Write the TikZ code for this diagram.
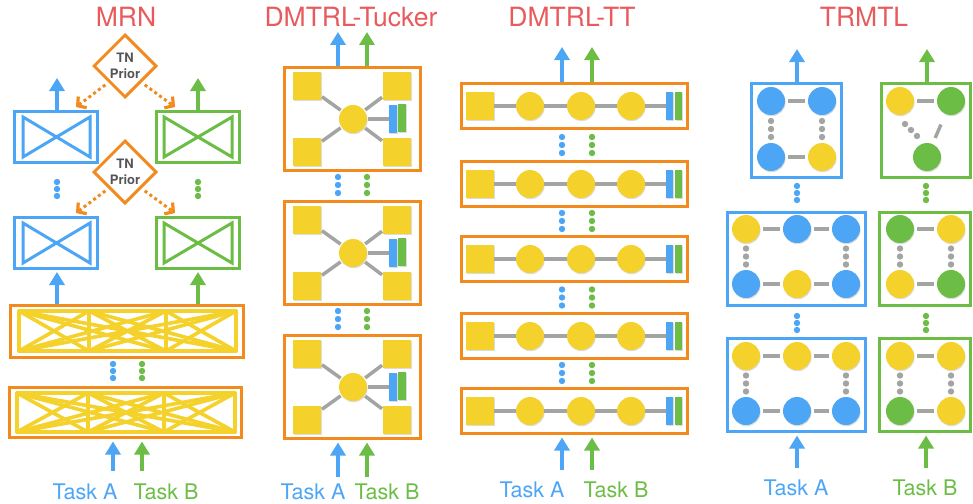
\documentclass[tikz,border=0pt]{standalone}
\usepackage{fontspec}
\setmainfont{TeX Gyre Heros}
\usetikzlibrary{arrows.meta,shapes.geometric,shadows,calc}
\definecolor{cblue}{HTML}{4DA6F5}
\definecolor{cgreen}{HTML}{6CBD45}
\definecolor{corange}{HTML}{F28A1E}
\definecolor{cyellow}{HTML}{F5D12B}
\definecolor{cgray}{HTML}{A3A5A3}
\definecolor{cred}{HTML}{E85A5C}
\definecolor{ctext}{HTML}{555555}
\tikzset{
  upar/.style={line width=4pt,-{Triangle[width=15pt,length=13pt]}},
  orar/.style={corange,line width=3pt,dash pattern=on 3pt off 3pt,
    -{Straight Barb[length=6pt,width=14pt,line width=3.2pt]}},
  pbox/.style={draw,line width=3pt,inner sep=0pt,rectangle},
  shad/.style={drop shadow={opacity=0.28,shadow xshift=0.6pt,shadow yshift=-1.2pt}},
  ysq/.style={rectangle,fill=cyellow,minimum size=28pt,inner sep=0pt,shad},
  ccirc/.style={circle,fill=#1,minimum size=28pt,inner sep=0pt,shad},
  bbar/.style={rectangle,fill=cblue,minimum width=8pt,minimum height=28pt,inner sep=0pt,shad},
  gbar/.style={rectangle,fill=cgreen,minimum width=8pt,minimum height=28pt,inner sep=0pt,shad},
  gline/.style={cgray,line width=3.5pt},
  trline/.style={cgray,line width=3.5pt,shorten <=3pt,shorten >=3pt},
  lat/.style={cyellow,line width=3.6pt,line cap=round,line join=round},
  bow/.style={line width=3pt,line join=miter},
  ttl/.style={text=cred,font=\fontsize{26.5}{27}\selectfont,anchor=base,inner sep=0pt},
  tasklbl/.style={font=\fontsize{21.5}{22}\selectfont,anchor=base,inner sep=0pt},
}
\begin{document}
\begin{tikzpicture}[x=1pt,y=-1pt]
\useasboundingbox (0,0) rectangle (973,503);

% ---------------- titles
\node[ttl] (tMRN) at (126,27) {MRN};
\node[ttl] (tTk) at (351,27) {DMTRL-Tucker};
\node[ttl] (tTT) at (572,27) {DMTRL-TT};
\node[ttl] (tTR) at (864,27) {TRMTL};

% ================= MRN
\node[pbox,draw=cblue,minimum width=83pt,minimum height=51pt] (mA1) at (56,137) {};
\node[pbox,draw=cgreen,minimum width=83pt,minimum height=51pt] (mB1) at (198,137) {};
\node[pbox,draw=cblue,minimum width=83pt,minimum height=51pt] (mA2) at (56,243) {};
\node[pbox,draw=cgreen,minimum width=83pt,minimum height=51pt] (mB2) at (198,243) {};
\draw[bow,cblue] (23,117) -- (90,157) -- (90,117) -- (23,157) -- cycle;
\draw[bow,cgreen] (164,117) -- (232,157) -- (232,117) -- (164,157) -- cycle;
\draw[bow,cblue] (23,223) -- (90,263) -- (90,223) -- (23,263) -- cycle;
\draw[bow,cgreen] (164,223) -- (232,263) -- (232,223) -- (164,263) -- cycle;

\node[diamond,draw=corange,line width=3pt,minimum width=63pt,minimum height=63pt,inner sep=0pt,
  align=center,text=ctext,font=\bfseries\fontsize{13}{15.5}\selectfont] (tn1) at (125,66) {TN\\Prior};
\node[diamond,draw=corange,line width=3pt,minimum width=63pt,minimum height=63pt,inner sep=0pt,
  align=center,text=ctext,font=\bfseries\fontsize{13}{15.5}\selectfont] (tn2) at (125,172) {TN\\Prior};
\coordinate (o1) at (76,107);
\coordinate (o2) at (175,107);
\coordinate (o3) at (76,213);
\coordinate (o4) at (175,213);
\draw[orar,shorten <=4pt] (tn1.south west) -- (o1);
\draw[orar,shorten <=4pt] (tn1.south east) -- (o2);
\draw[orar,shorten <=4pt] (tn2.south west) -- (o3);
\draw[orar,shorten <=4pt] (tn2.south east) -- (o4);

\node[pbox,draw=corange,minimum width=233pt,minimum height=52pt] (mL1) at (127,331.5) {};
\node[pbox,draw=corange,minimum width=232pt,minimum height=50pt] (mL2) at (125.5,412.5) {};
\foreach \ya/\yb/\xa/\xb/\xc/\xd in {311/351/19/89/166/236, 393/432/17/88/164/235} {
  \foreach \p/\q in {\xa/\xb,\xa/\xc,\xa/\xd,\xb/\xc,\xb/\xd,\xc/\xd} {
    \draw[lat] (\p,\ya) -- (\q,\ya) (\p,\yb) -- (\q,\yb) (\p,\ya) -- (\q,\yb) (\p,\yb) -- (\q,\ya);
  }
  \foreach \p in {\xa,\xb,\xc,\xd} \draw[lat] (\p,\ya) -- (\p,\yb);
}

\coordinate (mAo) at (57,78);
\coordinate (mBo) at (198,78);
\draw[upar,cblue] (mA1.north -| mAo) -- (mAo);
\draw[upar,cgreen] (mB1.north -| mBo) -- (mBo);
\coordinate (mAi) at (57,272);
\coordinate (mBi) at (198,272);
\draw[upar,cblue] (mL1.north -| mAi) -- (mAi);
\draw[upar,cgreen] (mL1.north -| mBi) -- (mBi);
\coordinate (mTA) at (113,471);
\coordinate (mTB) at (142,471);
\draw[upar,cblue,shorten >=2.5pt] (mTA) -- (mTA |- mL2.south);
\draw[upar,cgreen,shorten >=2.5pt] (mTB) -- (mTB |- mL2.south);
\foreach \y in {182,189,196} {
  \fill[cblue] (57,\y) circle (3.2pt);
  \fill[cgreen] (198,\y) circle (3.2pt);
}
\foreach \y in {364,371,378} {
  \fill[cblue] (113,\y) circle (3.2pt);
  \fill[cgreen] (142,\y) circle (3.2pt);
}
\node[tasklbl,text=cblue] (mLA) at (85,499) {Task A};
\node[tasklbl,text=cgreen] (mLB) at (166,499) {Task B};

% ================= DMTRL-Tucker
\foreach \i/\t in {1/66,2/200,3/334} {
  \node[pbox,draw=corange,minimum width=136pt,minimum height=103pt] (tk\i) at (352.5,\t+53) {};
  \node[ccirc=cyellow] (tkc\i) at (353,\t+53) {};
  \node[ysq] (tkA\i) at (307,\t+20) {};
  \node[ysq] (tkB\i) at (397,\t+20) {};
  \node[ysq] (tkC\i) at (307,\t+86) {};
  \node[ysq] (tkD\i) at (397,\t+86) {};
  \node[bbar] (tkE\i) at (393,\t+53) {};
  \node[gbar] (tkF\i) at (402,\t+52) {};
  \draw[gline,shorten <=1pt,shorten >=1pt] (tkc\i) -- (tkA\i);
  \draw[gline,shorten <=1pt,shorten >=1pt] (tkc\i) -- (tkB\i);
  \draw[gline,shorten <=1pt,shorten >=1pt] (tkc\i) -- (tkC\i);
  \draw[gline,shorten <=1pt,shorten >=1pt] (tkc\i) -- (tkD\i);
  \draw[gline,shorten <=1pt] (tkc\i) -- (tkE\i);
}
\foreach \y in {177,185,193,311,319,327} {
  \fill[cblue] (338,\y) circle (3.2pt);
  \fill[cgreen] (367,\y) circle (3.2pt);
}
\coordinate (tkAo) at (338,32);
\coordinate (tkBo) at (367,32);
\draw[upar,cblue] (tk1.north -| tkAo) -- (tkAo);
\draw[upar,cgreen] (tk1.north -| tkBo) -- (tkBo);
\coordinate (tkTA) at (338,477);
\coordinate (tkTB) at (367,477);
\draw[upar,cblue,shorten >=2.5pt] (tkTA) -- (tkTA |- tk3.south);
\draw[upar,cgreen,shorten >=2.5pt] (tkTB) -- (tkTB |- tk3.south);
\node[tasklbl,text=cblue] (tkLA) at (313,499) {Task A};
\node[tasklbl,text=cgreen] (tkLB) at (387,499) {Task B};

% ================= DMTRL-TT
\foreach \i/\t in {1/82,2/160,3/235,4/312,5/387} {
  \node[pbox,draw=corange,minimum width=226pt,minimum height=45pt] (tt\i) at (574.5,\t+24) {};
  \node[ysq] (ttS\i) at (480,\t+24) {};
  \node[ccirc=cyellow] (ttA\i) at (530,\t+24) {};
  \node[ccirc=cyellow] (ttB\i) at (581,\t+24) {};
  \node[ccirc=cyellow] (ttC\i) at (631,\t+24) {};
  \node[bbar,minimum width=7pt] (ttE\i) at (669.5,\t+24) {};
  \node[gbar,minimum width=7pt] (ttF\i) at (678.5,\t+24) {};
  \draw[gline] (ttS\i) -- (ttA\i);
  \draw[gline] (ttA\i) -- (ttB\i);
  \draw[gline] (ttB\i) -- (ttC\i);
  \draw[gline] (ttC\i) -- (ttE\i);
}
\foreach \m in {145,221,297.5,373} {
  \foreach \d in {-8,0,8} {
    \fill[cblue] (562,\m+\d) circle (3.2pt);
    \fill[cgreen] (592,\m+\d) circle (3.2pt);
  }
}
\coordinate (ttAo) at (562,47);
\coordinate (ttBo) at (592,47);
\draw[upar,cblue] (tt1.north -| ttAo) -- (ttAo);
\draw[upar,cgreen] (tt1.north -| ttBo) -- (ttBo);
\coordinate (ttTA) at (562,470);
\coordinate (ttTB) at (592,470);
\draw[upar,cblue,shorten >=2.5pt] (ttTA) -- (ttTA |- tt5.south);
\draw[upar,cgreen,shorten >=2.5pt] (ttTB) -- (ttTB |- tt5.south);
\node[tasklbl,text=cblue] (ttLA) at (532,497) {Task A};
\node[tasklbl,text=cgreen] (ttLB) at (616,497) {Task B};

% ================= TRMTL
\node[pbox,draw=cblue,minimum width=90pt,minimum height=94pt] (trA1) at (796.5,130.5) {};
\node[pbox,draw=cblue,minimum width=138pt,minimum height=93pt] (trA2) at (796.5,259) {};
\node[pbox,draw=cblue,minimum width=138pt,minimum height=93pt] (trA3) at (796.5,385) {};
\node[pbox,draw=cgreen,minimum width=89pt,minimum height=94pt] (trB1) at (926,130.5) {};
\node[pbox,draw=cgreen,minimum width=91pt,minimum height=93pt] (trB2) at (925,259) {};
\node[pbox,draw=cgreen,minimum width=91pt,minimum height=93pt] (trB3) at (925,385) {};

% top blue
\node[ccirc=cblue] (a11) at (771,101) {};
\node[ccirc=cblue] (a12) at (822,101) {};
\node[ccirc=cblue] (a13) at (771,157) {};
\node[ccirc=cyellow] (a14) at (822,157) {};
\draw[trline] (a11) -- (a12);
\draw[trline] (a13) -- (a14);
% top green
\node[ccirc=cyellow] (b11) at (900,101) {};
\node[ccirc=cgreen] (b12) at (951,101) {};
\node[ccirc=cgreen] (b13) at (927,157) {};
\draw[trline] (b11) -- (b12);
\draw[cgray,line width=3.5pt] ($(b12)!0.42!(b13)$) -- ($(b12)!0.66!(b13)$);
\foreach \x/\y in {905/124,911/130,917/136} \fill[cgray] (\x,\y) circle (3.2pt);
% mid blue
\node[ccirc=cyellow] (a21) at (746,229) {};
\node[ccirc=cblue] (a22) at (797,229) {};
\node[ccirc=cblue] (a23) at (846,229) {};
\node[ccirc=cblue] (a24) at (746,284) {};
\node[ccirc=cyellow] (a25) at (797,284) {};
\node[ccirc=cblue] (a26) at (846,284) {};
\draw[trline] (a21) -- (a22);
\draw[trline] (a22) -- (a23);
\draw[trline] (a24) -- (a25);
\draw[trline] (a25) -- (a26);
% mid green
\node[ccirc=cgreen] (b21) at (900,229) {};
\node[ccirc=cyellow] (b22) at (951,229) {};
\node[ccirc=cyellow] (b23) at (900,284) {};
\node[ccirc=cgreen] (b24) at (951,284) {};
\draw[trline] (b21) -- (b22);
\draw[trline] (b23) -- (b24);
% bottom blue
\node[ccirc=cyellow] (a31) at (746,356) {};
\node[ccirc=cyellow] (a32) at (797,356) {};
\node[ccirc=cyellow] (a33) at (846,356) {};
\node[ccirc=cblue] (a34) at (746,411) {};
\node[ccirc=cblue] (a35) at (797,411) {};
\node[ccirc=cblue] (a36) at (846,411) {};
\draw[trline] (a31) -- (a32);
\draw[trline] (a32) -- (a33);
\draw[trline] (a34) -- (a35);
\draw[trline] (a35) -- (a36);
% bottom green
\node[ccirc=cyellow] (b31) at (900,356) {};
\node[ccirc=cyellow] (b32) at (951,356) {};
\node[ccirc=cgreen] (b33) at (900,411) {};
\node[ccirc=cyellow] (b34) at (951,411) {};
\draw[trline] (b31) -- (b32);
\draw[trline] (b33) -- (b34);
% gray vertical dots
\foreach \x/\m in {771/129,822/129,746/256.5,846/256.5,900/256.5,951/256.5,746/383.5,846/383.5,900/383.5,951/383.5} {
  \foreach \d in {-8,0,8} \fill[cgray] (\x,\m+\d) circle (3.2pt);
}
% coloured dots between boxes
\foreach \y in {186,193,200,316,323,330} {
  \fill[cblue] (797,\y) circle (3.2pt);
  \fill[cgreen] (926,\y) circle (3.2pt);
}
\coordinate (trAo) at (797,49);
\coordinate (trBo) at (927,49);
\draw[upar,cblue] (trA1.north -| trAo) -- (trAo);
\draw[upar,cgreen] (trB1.north -| trBo) -- (trBo);
\coordinate (trTA) at (797,468);
\coordinate (trTB) at (926,468);
\draw[upar,cblue,shorten >=2.5pt] (trTA) -- (trTA |- trA3.south);
\draw[upar,cgreen,shorten >=2.5pt] (trTB) -- (trTB |- trB3.south);
\node[tasklbl,text=cblue] (trLA) at (796,495) {Task A};
\node[tasklbl,text=cgreen] (trLB) at (925,495) {Task B};
\end{tikzpicture}
\end{document}
